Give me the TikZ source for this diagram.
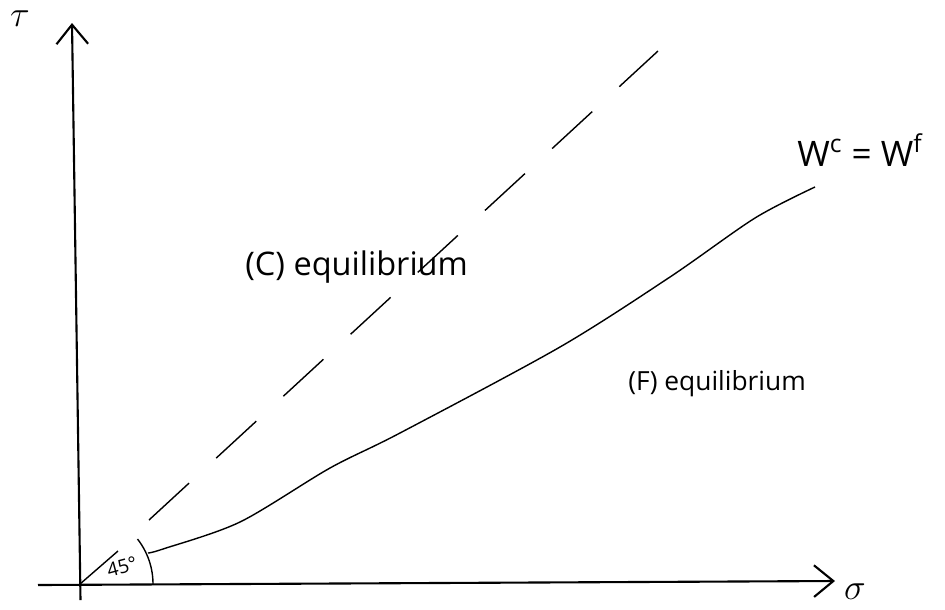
\documentclass[tikz,border=0pt]{standalone}
\usepackage{fontspec}
\setmainfont{Open Sans}
\usetikzlibrary{arrows.meta}
\tikzset{
  axis/.style={line width=1.2pt, -{Straight Barb[length=11pt,width=18pt,line width=1.2pt]}},
  hand/.style={font=\fontsize{16}{18}\selectfont, inner sep=0pt},
  curveline/.style={line width=0.8pt},
  dashline/.style={line width=0.8pt, dash pattern=on 31pt off 21pt},
}
\begin{document}
\begin{tikzpicture}[x=0.02cm,y=-0.02cm]
\useasboundingbox (0,0) rectangle (945,609);
% axes
\coordinate (yb) at (80.5,600);
\coordinate (yt) at (72,23);
\coordinate (xl) at (38,585);
\coordinate (xr) at (835,581);
\coordinate (o) at (80,584);
\draw[axis] (yb) -- (yt);
\draw[axis] (xl) -- (xr);
\node[hand, font=\fontsize{20}{22}\selectfont] (tau) at (20,19) {$\tau$};
\node[hand, font=\fontsize{20}{22}\selectfont] (sig) at (855,592) {$\sigma$};
% 45 degree dashed line
\coordinate (d0) at (149,520);
\coordinate (d1) at (658,51);
\draw[dashline] (d0) -- (d1);
% curve W^c = W^f
\draw[curveline] plot[smooth, tension=0.5] coordinates {(148,553) (163,549) (240,522) (330,468) (400,433) (560,347) (670,277) (755,218) (815,187)};
% angle arc and label
\draw[line width=0.8pt] (o) ++(0:73) arc[start angle=0, end angle=-38, radius=73];
\draw[line width=0.8pt] (o) -- ++(38,-33) coordinate (angtip);
\node[font=\fontsize{11}{12}\selectfont, inner sep=0pt, rotate=15] (ang) at (122,567) {45°};
% labels
\node[hand, font=\fontsize{18.5}{20}\selectfont, anchor=base west] (c) at (245,275) {(C) equilibrium};
\node[hand, font=\fontsize{15}{17}\selectfont, anchor=base west] (f) at (628,390) {(F) equilibrium};
\node[hand, font=\fontsize{20}{22}\selectfont] (w) at (860,150) {W$^{\mathrm{c}}$ = W$^{\mathrm{f}}$};
\end{tikzpicture}
\end{document}
